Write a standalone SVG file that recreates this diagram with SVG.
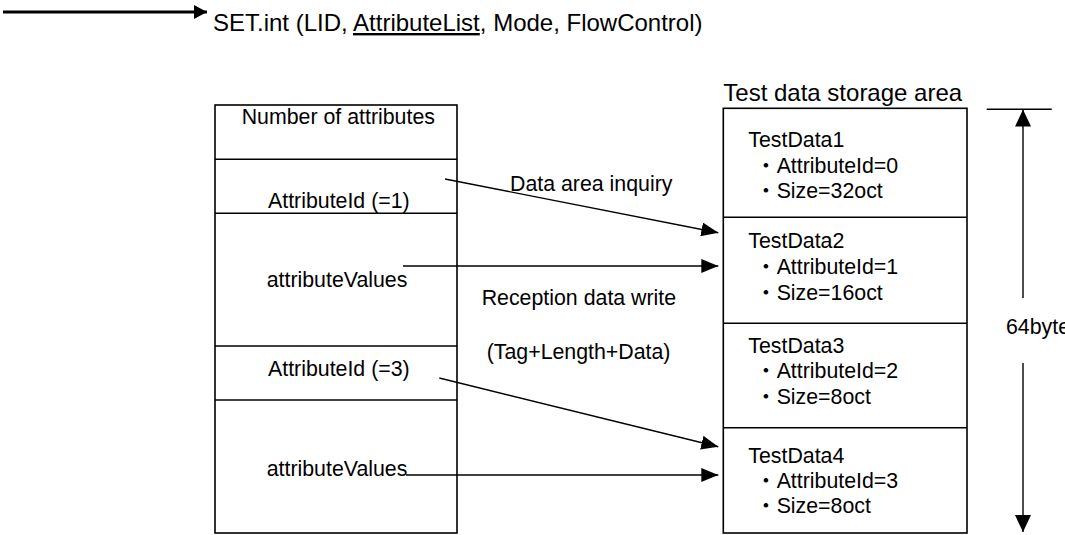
<svg xmlns="http://www.w3.org/2000/svg" width="1065" height="535" viewBox="0 0 1065 535">
<style>
text{font-family:"Liberation Sans","Noto Sans CJK JP",Arial,sans-serif;font-size:21.33px;fill:#000}
.big{font-size:24px}
.box{fill:#fff;stroke:#000;stroke-width:1.6}
.div{stroke:#000;stroke-width:1.6;fill:none}
.conn{stroke:#000;stroke-width:1.4;fill:none;marker-end:url(#ah)}
.dim{stroke:#000;stroke-width:1.4;fill:none}
</style>
<defs>
<marker id="ah" markerWidth="18" markerHeight="14" refX="17" refY="7" orient="auto" markerUnits="userSpaceOnUse">
<path d="M0,0 L17,7 L0,14 Z" fill="#000"/>
</marker>
<marker id="ahBig" markerWidth="14" markerHeight="14" refX="13" refY="7" orient="auto" markerUnits="userSpaceOnUse">
<path d="M0,0 L13,7 L0,14 Z" fill="#000"/>
</marker>
<marker id="ahDim" markerWidth="18" markerHeight="16" refX="17" refY="8" orient="auto" markerUnits="userSpaceOnUse">
<path d="M0,0 L17,8 L0,16 Z" fill="#000"/>
</marker>
</defs>

<g id="top-call">
<line x1="3" y1="12" x2="207" y2="12" stroke="#000" stroke-width="3" marker-end="url(#ahBig)"/>
<text class="big" x="213" y="31">SET.int (LID, <tspan text-decoration="underline">AttributeList</tspan>, Mode, FlowControl)</text>
</g>

<g id="attribute-list">
<rect class="box" x="215" y="105" width="242" height="428"/>
<line class="div" x1="215" y1="159.3" x2="457" y2="159.3"/>
<line class="div" x1="215" y1="213.3" x2="457" y2="213.3"/>
<line class="div" x1="215" y1="346" x2="457" y2="346"/>
<line class="div" x1="215" y1="400" x2="457" y2="400"/>
<text x="241.7" y="124.3">Number of attributes</text>
<text x="268" y="208.3">AttributeId (=1)</text>
<text x="266.7" y="286.7">attributeValues</text>
<text x="268" y="376">AttributeId (=3)</text>
<text x="266.7" y="476">attributeValues</text>
</g>

<g id="storage-area">
<text class="big" x="723.3" y="100.7">Test data storage area</text>
<rect class="box" x="723.3" y="108.3" width="243.7" height="424.7"/>
<line class="div" x1="723.3" y1="217.3" x2="967" y2="217.3"/>
<line class="div" x1="723.3" y1="323.3" x2="967" y2="323.3"/>
<line class="div" x1="723.3" y1="427.7" x2="967" y2="427.7"/>
</g>

<g id="testdata1">
<text x="748.3" y="146.7">TestData1</text>
<text x="755.3" y="173.3">・AttributeId=0</text>
<text x="755.3" y="198.3">・Size=32oct</text>
</g>
<g id="testdata2">
<text x="748.3" y="248.3">TestData2</text>
<text x="755.3" y="274.3">・AttributeId=1</text>
<text x="755.3" y="300">・Size=16oct</text>
</g>
<g id="testdata3">
<text x="748.3" y="352.7">TestData3</text>
<text x="755.3" y="378.3">・AttributeId=2</text>
<text x="755.3" y="404">・Size=8oct</text>
</g>
<g id="testdata4">
<text x="748.3" y="462.7">TestData4</text>
<text x="755.3" y="488.3">・AttributeId=3</text>
<text x="755.3" y="513.3">・Size=8oct</text>
</g>

<g id="size-dimension">
<line class="dim" x1="986.7" y1="109.3" x2="1051.7" y2="109.3"/>
<line x1="1023" y1="298" x2="1023" y2="109.5" stroke="#000" stroke-width="1.4" marker-end="url(#ahDim)"/>
<line x1="1023" y1="363" x2="1023" y2="532" stroke="#000" stroke-width="1.4" marker-end="url(#ahDim)"/>
<text x="1006" y="334">64byte</text>
</g>

<g id="connectors">
<line class="conn" x1="445" y1="179" x2="718.3" y2="232.7"/>
<line class="conn" x1="403" y1="266" x2="718.3" y2="266"/>
<line class="conn" x1="439.3" y1="378" x2="718.3" y2="446.7"/>
<line class="conn" x1="406" y1="475" x2="718.3" y2="475"/>
<text x="510" y="190.7">Data area inquiry</text>
<text x="481.7" y="305">Reception data write</text>
<text x="486.7" y="359.3">(Tag+Length+Data)</text>
</g>
</svg>
